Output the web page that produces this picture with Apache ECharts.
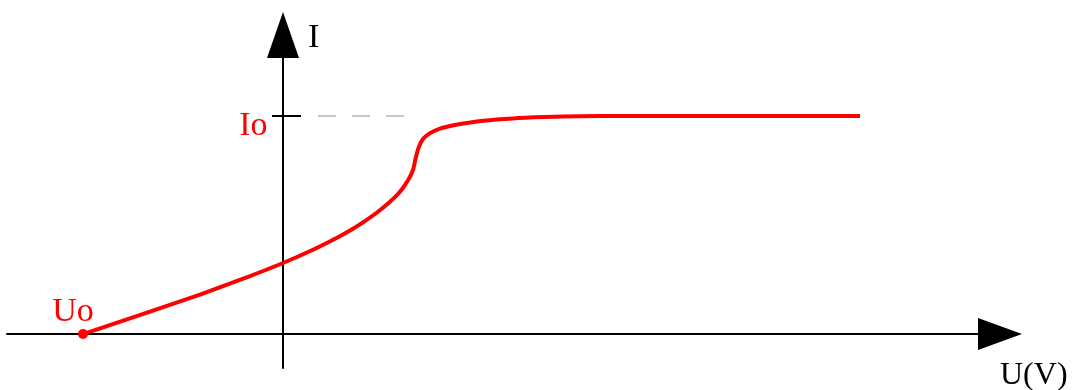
<!DOCTYPE html>
<html>
<head>
<meta charset="utf-8">
<script src="https://cdn.jsdelivr.net/npm/echarts@6/dist/echarts.min.js"></script>
<style>
  html, body { margin: 0; padding: 0; background: #ffffff; }
  #chart { width: 1074px; height: 390px; }
</style>
</head>
<body>
<div id="chart"></div>
<script>
// Photocell current-voltage characteristic: current I versus voltage U (V)
const stopVoltage = -2.0;      // U0, voltage at which the current falls to zero
const saturationCurrent = 1.2; // I0, saturation current

const curveVoltage = [-2.0, -1.33, -0.83, -0.33, 0.0, 0.30, 0.54, 0.67, 0.80, 0.94, 1.07, 1.17,
  1.25, 1.30, 1.325, 1.355, 1.40, 1.47, 1.55, 1.67, 1.77, 2.0, 2.3, 2.62, 2.97, 3.37, 5.77];
const curveCurrent = [0.0, 0.123, 0.217, 0.319, 0.391, 0.464, 0.530, 0.570, 0.615, 0.669, 0.728, 0.783,
  0.846, 0.903, 0.963, 1.024, 1.073, 1.106, 1.127, 1.145, 1.156, 1.174, 1.187, 1.194, 1.199, 1.2, 1.2];

// Helper guide at the saturation level and the I0 tick on the current axis
const guideVoltage = [0.35, 1.23];
const tickVoltage = [-0.11, 0.18];

const curveData = curveVoltage.map((u, i) => [u, curveCurrent[i]]);
const serif = '"Liberation Serif", "DejaVu Serif", serif';

const chart = echarts.init(document.getElementById('chart'), null, { renderer: 'canvas' });
chart.setOption({
  animation: false,
  backgroundColor: '#ffffff',
  grid: { left: 7, right: 74, top: 35, bottom: 22, containLabel: false, outerBoundsMode: 'none' },
  xAxis: {
    type: 'value',
    min: -2.76,
    max: 7.17,
    name: 'U(V)',
    nameLocation: 'end',
    nameGap: 0,
    nameTextStyle: {
      fontFamily: serif, fontSize: 32, color: '#000000',
      align: 'left', verticalAlign: 'top', padding: [26, 0, 0, 0]
    },
    axisLine: {
      onZero: true,
      symbol: ['none', 'triangle'],
      symbolSize: [32, 44],
      lineStyle: { color: '#000000', width: 2 }
    },
    axisTick: { show: false },
    axisLabel: { show: false },
    splitLine: { show: false }
  },
  yAxis: {
    type: 'value',
    min: -0.187,
    max: 1.646,
    name: 'I',
    nameLocation: 'end',
    nameGap: -3,
    nameTextStyle: {
      fontFamily: serif, fontSize: 34, color: '#000000',
      align: 'left', verticalAlign: 'middle', padding: [0, 0, 0, 25]
    },
    axisLine: {
      onZero: true,
      symbol: ['none', 'triangle'],
      symbolSize: [32, 46],
      lineStyle: { color: '#000000', width: 2 }
    },
    axisTick: { show: false },
    axisLabel: { show: false },
    splitLine: { show: false }
  },
  series: [
    {
      name: 'tick',
      type: 'line',
      data: tickVoltage.map(u => [u, saturationCurrent]),
      symbol: 'none',
      silent: true,
      lineStyle: { color: '#000000', width: 2 }
    },
    {
      name: 'guide',
      type: 'line',
      data: guideVoltage.map(u => [u, saturationCurrent]),
      symbol: 'none',
      silent: true,
      lineStyle: { color: '#c8c8c8', width: 2, type: [18, 16] }
    },
    {
      name: 'I(U)',
      type: 'line',
      data: curveData,
      symbol: 'none',
      smooth: 0.2,
      lineStyle: { color: '#ff0000', width: 4 }
    },
    {
      // I0 marker text, placed left of the current axis
      name: 'I0',
      type: 'scatter',
      data: [[0, saturationCurrent]],
      symbol: 'circle',
      symbolSize: 1,
      silent: true,
      itemStyle: { color: 'rgba(0,0,0,0)', opacity: 1 },
      label: {
        show: true,
        formatter: () => 'Io',
        position: 'left',
        distance: 15,
        offset: [0, 10],
        color: '#ff0000',
        fontFamily: serif,
        fontSize: 34
      }
    },
    {
      name: 'U0',
      type: 'scatter',
      data: [[stopVoltage, 0]],
      symbol: 'circle',
      symbolSize: 10,
      silent: true,
      itemStyle: { color: '#ff0000', opacity: 1 },
      label: {
        show: true,
        formatter: () => 'Uo',
        position: 'top',
        distance: 0,
        offset: [-10, 0],
        color: '#ff0000',
        fontFamily: serif,
        fontSize: 34
      }
    }
  ]
});
</script>
</body>
</html>
